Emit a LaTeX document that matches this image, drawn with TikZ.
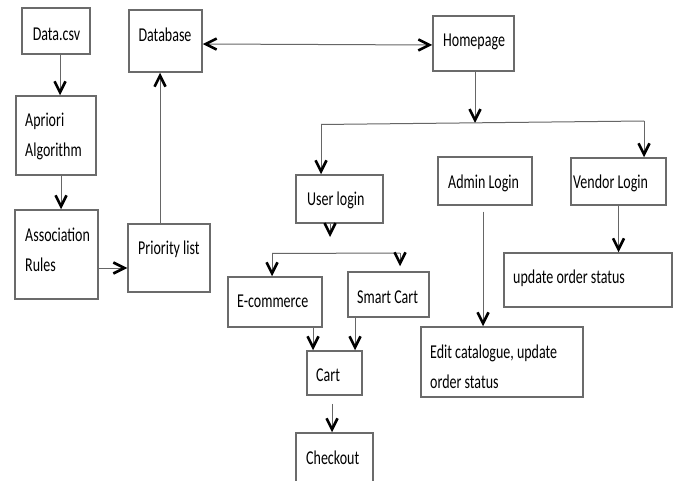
\documentclass[tikz,border=0pt]{standalone}
\usepackage{fontspec}
\setmainfont{Carlito}
\usepackage{graphicx}
\usetikzlibrary{arrows.meta}
\newcommand{\tl}[1]{\scalebox{1}[1.4]{#1}}
\begin{document}
\begin{tikzpicture}[x=1pt,y=-1pt,
  box/.style={draw=black!58,line width=1.5pt,inner sep=0pt,rectangle},
  txt/.style={inner sep=0pt,font=\fontsize{14}{30}\selectfont,text=black,align=left},
  ln/.style={draw=black!60,line width=1pt},
  arr/.style={ln,-{Straight Barb[length=11pt,width=11pt,line width=2.6pt,color=black]}},
  arr2/.style={ln,{Straight Barb[length=11pt,width=11pt,line width=2.6pt,color=black]}-{Straight Barb[length=11pt,width=11pt,line width=2.6pt,color=black]}}]
\useasboundingbox (0,0) rectangle (677,481);
\fill[white] (0,0) rectangle (677,481);
% boxes
\node[box,minimum width=68pt,minimum height=46pt] (data) at (56,31) {};
\node[box,minimum width=80pt,minimum height=79pt] (apriori) at (56,135.5) {};
\node[box,minimum width=83pt,minimum height=89pt] (assoc) at (56.5,254.5) {};
\node[box,minimum width=82pt,minimum height=68pt] (prio) at (169,258) {};
\node[box,minimum width=73pt,minimum height=62pt] (db) at (165.5,41) {};
\node[box,minimum width=81pt,minimum height=55pt] (home) at (473.5,43.5) {};
\node[box,minimum width=87pt,minimum height=48pt] (user) at (339.5,199) {};
\node[box,minimum width=94pt,minimum height=48pt] (admin) at (485,181) {};
\node[box,minimum width=95pt,minimum height=47pt] (vendor) at (618.5,181.5) {};
\node[box,minimum width=168pt,minimum height=54pt] (upd) at (588,280) {};
\node[box,minimum width=162pt,minimum height=70pt] (edit) at (502,362) {};
\node[box,minimum width=94pt,minimum height=50pt] (ecom) at (275,302) {};
\node[box,minimum width=81pt,minimum height=45pt] (smart) at (388.5,294.5) {};
\node[box,minimum width=55pt,minimum height=44pt] (cart) at (334.5,373) {};
\begin{scope}
\clip (0,0) rectangle (677,481);
\node[box,minimum width=77pt,minimum height=60pt] (check) at (334.5,463) {};
\end{scope}
% texts
\node[txt] (tdata) at (56.5,34) {\tl{Data.csv}};
\node[txt] (tdb) at (165,35) {\tl{Database}};
\node[txt,anchor=west] (tapr) at (25,136.5) {\tl{Apriori}\\\tl{Algorithm}};
\node[txt,anchor=west] (tassoc) at (25,250) {\tl{Association}\\\tl{Rules}};
\node[txt,anchor=west] (tprio) at (138,249) {\tl{Priority list}};
\node[txt,anchor=west] (thome) at (443,42) {\tl{Homepage}};
\node[txt,anchor=west] (tuser) at (307,200) {\tl{User login}};
\node[txt,anchor=west] (tadmin) at (448,183) {\tl{Admin Login}};
\node[txt,anchor=west] (tvendor) at (573,183) {\tl{Vendor Login}};
\node[txt,anchor=west] (tupd) at (513,278) {\tl{update order status}};
\node[txt,anchor=west] (tedit) at (430,367) {\tl{Edit catalogue, update}\\\tl{order status}};
\node[txt,anchor=west] (tecom) at (237,301) {\tl{E-commerce}};
\node[txt,anchor=west] (tsmart) at (357,297) {\tl{Smart Cart}};
\node[txt,anchor=west] (tcart) at (316,375) {\tl{Cart}};
\node[txt,anchor=west] (tcheck) at (306,458) {\tl{Checkout}};
% connectors
\draw[arr] ([xshift=4pt]data.south) -- ([xshift=4pt]apriori.north);
\draw[arr] ([xshift=5pt]apriori.south) -- ([xshift=4.5pt]assoc.north);
\coordinate (pw) at ([yshift=-10pt]prio.west);
\draw[arr] (pw -| assoc.east) -- (pw);
\coordinate (pn) at ([xshift=-9pt]prio.north);
\draw[arr] (pn) -- (pn |- db.south);
\draw[arr2] ([yshift=-3pt]db.east) -- ([yshift=-1.5pt]home.west);
\coordinate (hb) at (475,123);
\draw[arr] (home.south -| hb) -- (hb);
\coordinate (bl) at (321,124.5);
\coordinate (br) at (644,121);
\draw[ln] (bl) -- (br);
\draw[arr] (bl) -- (user.north -| bl);
\draw[arr] (br) -- (vendor.north -| br);
\coordinate (ub) at (330,237);
\draw[arr] (user.south -| ub) -- (ub);
\coordinate (b2l) at (272,253.5);
\coordinate (b2r) at (400,253);
\draw[ln] (b2l) -- (b2r);
\draw[arr] (b2l) -- (ecom.north -| b2l);
\draw[arr] (b2r) -- ([yshift=5pt]smart.north -| b2r);
\coordinate (c1) at ([xshift=-21.5pt]cart.north);
\coordinate (c2) at ([xshift=20.5pt]cart.north);
\draw[arr] (ecom.south -| c1) -- (c1);
\draw[arr] (smart.south -| c2) -- (c2);
\coordinate (cc) at ([xshift=-2.5pt,yshift=-8pt]cart.south);
\draw[arr] (cc) -- (cc |- check.north);
\coordinate (ae) at ([xshift=-2pt,yshift=-6pt]admin.south);
\draw[arr] (ae) -- (ae |- edit.north);
\draw[arr] (vendor.south) -- (upd.north -| vendor.south);
\end{tikzpicture}
\end{document}
